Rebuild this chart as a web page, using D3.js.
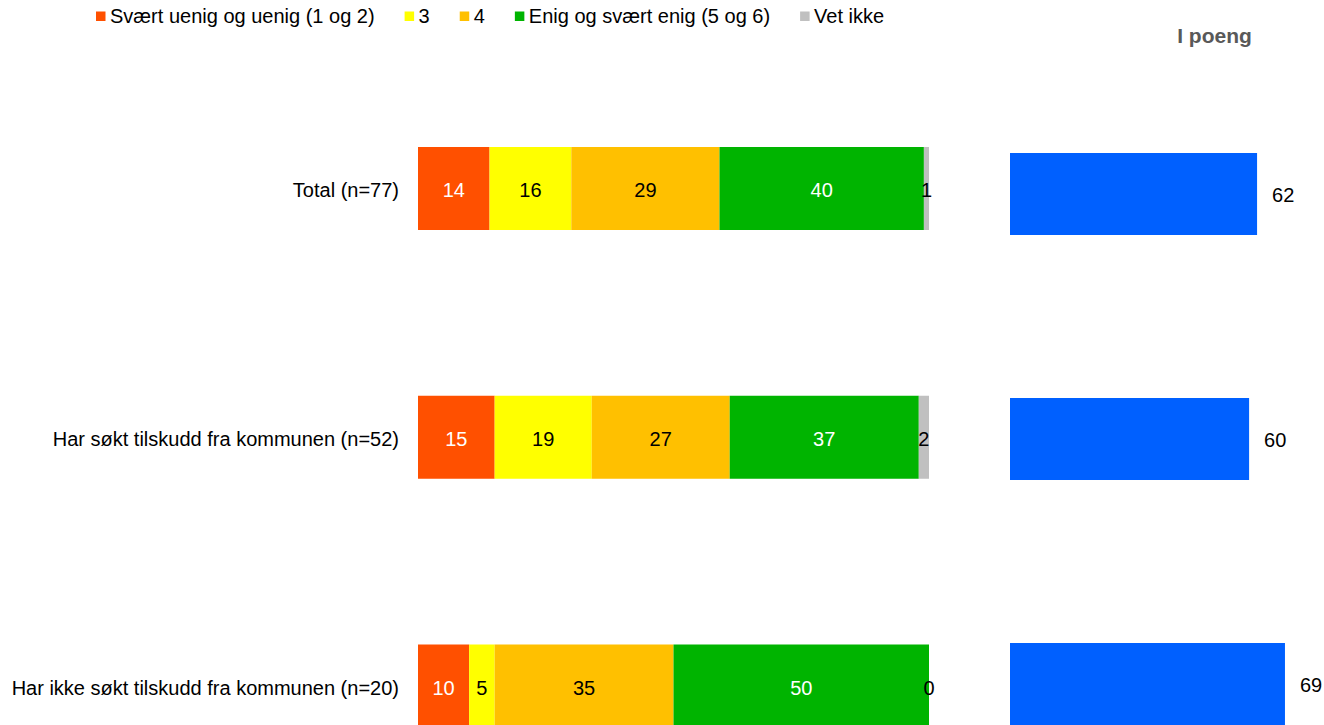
<!DOCTYPE html>
<html>
<head>
<meta charset="utf-8">
<script src="https://cdn.jsdelivr.net/npm/d3@7"></script>
<style>
  body { margin: 0; background: #fff; }
  svg { display: block; font-family: "Liberation Sans", Arial, sans-serif; }
</style>
</head>
<body>
<svg id="chart" width="1324" height="725"></svg>
<script>
const categories = ["Total (n=77)", "Har søkt tilskudd fra kommunen (n=52)", "Har ikke søkt tilskudd fra kommunen (n=20)"];
const seriesNames = ["Svært uenig og uenig (1 og 2)", "3", "4", "Enig og svært enig (5 og 6)", "Vet ikke"];
const seriesColors = ["#FF5000", "#FFFF00", "#FFC000", "#00B400", "#C0C0C0"];
const labelColors = ["#FFFFFF", "#000000", "#000000", "#FFFFFF", "#000000"];
const disagree = [14, 15, 10];
const neutral3 = [16, 19, 5];
const neutral4 = [29, 27, 35];
const agree = [40, 37, 50];
const dontKnow = [1, 2, 0];
const points = [62, 60, 69];
const pointsTitle = "I poeng";

const svg = d3.select("#chart");
const FS = 20;

const rows = categories.map((c, i) => ({
  cat: c,
  values: [disagree[i], neutral3[i], neutral4[i], agree[i], dontKnow[i]],
  points: points[i]
}));

const stack = d3.stack().keys(d3.range(seriesNames.length)).value((d, k) => d.values[k]);
const stacked = stack(rows);

const x = d3.scaleLinear().domain([0, 100]).range([418, 929]);
const y = d3.scalePoint().domain(categories).range([188.5, 686]);
const barH = 83;

const xr = d3.scaleLinear().domain([0, 100]).range([1010, 1408.5]);
const yr = d3.scalePoint().domain(categories).range([194, 684]);
const barHr = 82;

// stacked bars
const layers = svg.append("g").selectAll("g").data(stacked).join("g")
  .attr("fill", (d, i) => seriesColors[i]);
layers.selectAll("rect").data(d => d).join("rect")
  .attr("x", d => x(d[0]))
  .attr("width", d => x(d[1]) - x(d[0]))
  .attr("y", d => y(d.data.cat) - barH / 2)
  .attr("height", barH);

// segment labels
const lblG = svg.append("g").attr("font-size", FS).attr("text-anchor", "middle");
stacked.forEach((layer, k) => {
  lblG.selectAll(null).data(layer).join("text")
    .attr("x", d => (x(d[0]) + x(d[1])) / 2)
    .attr("y", d => y(d.data.cat))
    .attr("dy", "0.43em")
    .attr("fill", labelColors[k])
    .text(d => d.data.values[k]);
});

// category axis labels
svg.append("g").attr("font-size", FS).attr("text-anchor", "end")
  .selectAll("text").data(categories).join("text")
  .attr("x", 399)
  .attr("y", d => y(d))
  .attr("dy", "0.43em")
  .attr("fill", "#000")
  .text(d => d);

// points bars
svg.append("g").selectAll("rect").data(rows).join("rect")
  .attr("x", xr(0))
  .attr("width", d => xr(d.points) - xr(0))
  .attr("y", d => yr(d.cat) - barHr / 2)
  .attr("height", barHr)
  .attr("fill", "#0060FF");
svg.append("g").attr("font-size", FS)
  .selectAll("text").data(rows).join("text")
  .attr("x", d => xr(d.points) + 15)
  .attr("y", d => yr(d.cat))
  .attr("dy", "0.38em")
  .attr("fill", "#000")
  .text(d => d.points);

svg.append("text")
  .attr("x", 1214.5).attr("y", 35).attr("dy", "0.36em")
  .attr("text-anchor", "middle")
  .attr("font-size", 21).attr("font-weight", "bold")
  .attr("fill", "#595959")
  .text(pointsTitle);

// legend
const leg = svg.append("g").attr("font-size", FS);
let lx = 96;
seriesNames.forEach((name, i) => {
  leg.append("rect").attr("x", lx).attr("y", 11.5).attr("width", 9.5).attr("height", 9.5).attr("fill", seriesColors[i]);
  const t = leg.append("text").attr("x", lx + 14).attr("y", 16).attr("dy", "0.36em").attr("fill", "#000").text(name);
  lx = lx + 14 + t.node().getComputedTextLength() + 30;
});
</script>
</body>
</html>
